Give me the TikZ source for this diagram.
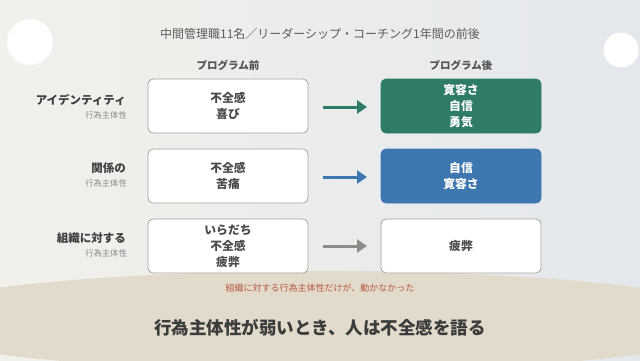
\documentclass[tikz,border=0pt]{standalone}
\usepackage{fontspec}
\setmainfont{Noto Sans CJK JP}
\usetikzlibrary{arrows.meta}
\definecolor{bgL}{HTML}{F2F0EB}
\definecolor{bgR}{HTML}{E4E8EC}
\definecolor{sand}{HTML}{E2DACA}
\definecolor{gbox}{HTML}{2E7B67}
\definecolor{bbox}{HTML}{3E76B0}
\definecolor{bord}{HTML}{A9A49D}
\definecolor{txt}{HTML}{3F3F3F}
\definecolor{boxt}{HTML}{4A4A4A}
\definecolor{sub}{HTML}{8A8A8A}
\definecolor{redt}{HTML}{B85A44}
\definecolor{garrow}{HTML}{8F8B86}
\tikzset{
  cellbox/.style={draw=bord, line width=0.8pt, rounded corners=5pt, fill=white,
    minimum width=160pt, minimum height=54pt, inner sep=0pt},
  greenbox/.style={cellbox, draw=gbox, fill=gbox},
  bluebox/.style={cellbox, draw=bbox, fill=bbox},
  celltext/.style={align=center, font=\bfseries\fontsize{11.8}{16}\selectfont, text=boxt},
  whitetext/.style={align=center, font=\bfseries\fontsize{11.8}{16}\selectfont, text=white},
  rowlabel/.style={anchor=east, font=\bfseries\fontsize{11.5}{14}\selectfont, text=txt, inner sep=0pt},
  rowsub/.style={anchor=east, font=\fontsize{8.3}{10}\selectfont, text=sub, inner sep=0pt},
  colhead/.style={font=\bfseries\fontsize{10.5}{12}\selectfont, text=txt!90, inner sep=0pt},
  flow/.style={line width=3pt, -{Triangle[length=10pt,width=13pt]}}
}
\begin{document}
\begin{tikzpicture}[x=1pt,y=-1pt]
\useasboundingbox (0,0) rectangle (640,360);
\shade[left color=bgL, right color=bgR] (0,0) rectangle (640,360);
\fill[sand] (320,321) ellipse [x radius=430, y radius=50];
\fill[white] (30,42) circle [radius=23];
\fill[white] (621,50) circle [radius=17.5];
% title
\node[font=\fontsize{12}{14}\selectfont, text=txt!85] (title) at (320,34) {中間管理職11名／リーダーシップ・コーチング1年間の前後};
\node[colhead] (hb) at (228,65) {プログラム前};
\node[colhead] (ha) at (461,65) {プログラム後};
% boxes
\node[cellbox] (b1) at (228,106) {};
\node[celltext] at (b1) {不全感\\喜び};
\node[greenbox] (a1) at (461,106) {};
\node[whitetext] at (a1) {寛容さ\\自信\\勇気};
\node[cellbox] (b2) at (228,176) {};
\node[celltext] at (b2) {不全感\\苦痛};
\node[bluebox] (a2) at (461,176) {};
\node[whitetext] at (a2) {自信\\寛容さ};
\node[cellbox] (b3) at (228,246) {};
\node[celltext] at (b3) {いらだち\\不全感\\疲弊};
\node[cellbox] (a3) at (461,246) {};
\node[celltext] at (a3) {疲弊};
% arrows
\coordinate (s1) at (323,107); \coordinate (e1) at (367,107);
\coordinate (s2) at (323,177); \coordinate (e2) at (367,177);
\coordinate (s3) at (323,246); \coordinate (e3) at (367,246);
\draw[flow, draw=gbox] (s1) -- (e1);
\draw[flow, draw=bbox] (s2) -- (e2);
\draw[flow, draw=garrow] (s3) -- (e3);
% row labels
\node[rowlabel] (l1) at (126,100) {アイデンティティ};
\node[rowsub] (m1) at (127,115) {行為主体性};
\node[rowlabel] (l2) at (126,168) {関係の};
\node[rowsub] (m2) at (127,183) {行為主体性};
\node[rowlabel] (l3) at (126,238) {組織に対する};
\node[rowsub] (m3) at (127,253) {行為主体性};
% notes
\node[font=\fontsize{9}{11}\selectfont, text=redt] (note) at (320,288) {組織に対する行為主体性だけが、動かなかった};
\node[font=\bfseries\fontsize{17.5}{20}\selectfont, text=txt!95!black] (msg) at (320,328) {行為主体性が弱いとき、人は不全感を語る};
\end{tikzpicture}
\end{document}
